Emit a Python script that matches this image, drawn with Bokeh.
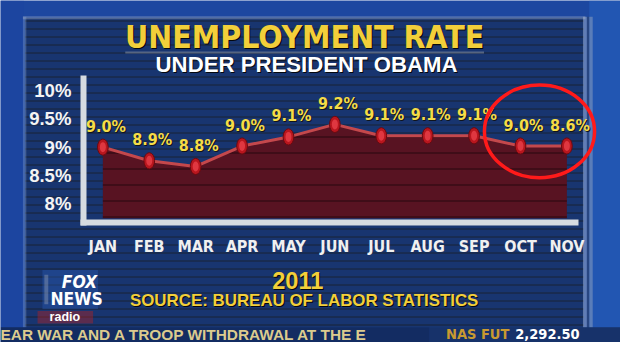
from bokeh.plotting import figure
from bokeh.models import Range1d, FixedTicker, BoxAnnotation, Label, ColumnDataSource
from bokeh.core.properties import value
from bokeh.embed import file_html
from bokeh.resources import INLINE

# ---- data ----
months = ["JAN", "FEB", "MAR", "APR", "MAY", "JUN", "JUL", "AUG", "SEP", "OCT", "NOV"]
rate_labels = ["9.0%", "8.9%", "8.8%", "9.0%", "9.1%", "9.2%", "9.1%", "9.1%", "9.1%", "9.0%", "8.6%"]
drawn_rate = [9.0, 8.76, 8.66, 9.02, 9.18, 9.40, 9.20, 9.20, 9.20, 9.02, 9.02]
y_ticks = [8, 8.5, 9, 9.5, 10]
y_tick_labels = ["8%", "8.5%", "9%", "9.5%", "10%"]
title = "UNEMPLOYMENT RATE"
subtitle = "UNDER PRESIDENT OBAMA"
year = "2011"
source_note = "SOURCE: BUREAU OF LABOR STATISTICS"
ticker_text = "EAR WAR AND A TROOP WITHDRAWAL AT THE E"
market_name = "NAS FUT"
market_value = "2,292.50"

idx = list(range(len(months)))

# ---- layout (design drawn on a 636x358 board, scaled onto a 620x342 canvas) ----
W, H = 620, 342
BW, BH = 636, 358
SX, SY = W / BW, H / BH
FS = (SX + SY) / 2
cx = lambda v: v * SX
cy = lambda v: v * SY

# board pixel calibration of the chart scales
X_PX0, X_STEP = 105.0, 47.6      # board x of month 0 and px per month
Y_PX9, Y_STEP = 153.5, 59.5      # board y of 9 % and px per 1 %
xd = lambda px: (px - X_PX0) / X_STEP
yd = lambda py: 9 - (py - Y_PX9) / Y_STEP

NARROW = "DejaVu Sans Condensed"
SANS = "Liberation Sans"
BLUE = "#1d47a0"
PANEL = "#121b28"
YELLOW = "#f2cf3a"

X0, Y0 = xd(85), yd(232.5)       # where the two axes meet

p = figure(width=W, height=H, output_backend="svg", toolbar_location=None,
           x_range=Range1d(xd(0), xd(BW)), y_range=Range1d(yd(BH), yd(0)),
           min_border_left=0, min_border_right=0, min_border_top=0, min_border_bottom=0,
           background_fill_color=BLUE, border_fill_color=BLUE, outline_line_color=None)
p.grid.visible = False

# ---- background decoration (canvas units, given in board px) ----
def box(l, r, t, b, color, level="underlay", **kw):
    bx = BoxAnnotation(left=cx(l), right=cx(r), top=cy(t), bottom=cy(b),
                       left_units="canvas", right_units="canvas",
                       top_units="canvas", bottom_units="canvas",
                       fill_color=color, line_color=None, level=level, **kw)
    p.add_layout(bx)
    return bx

box(0, 24, 0, 342, "#1b43a0")
box(604, 636, 0, 342, "#2a6fcc")                       # brighter blue at right
box(25, 598, 18, 342, PANEL, hatch_pattern="horizontal_line",
    hatch_color="#172233", hatch_scale=8, hatch_weight=1)  # dark panel
box(23, 26.5, 17, 342, "#7f9cc8")                      # left panel edge
box(23, 600, 16.5, 19.5, "#9fb0c8")                    # top panel edge
box(597.5, 601.5, 17, 342, "#c8d0d8")                  # right double bar
box(601.5, 604, 17, 342, "#3a4656")
box(604, 607.5, 17, 342, "#b0bac4")
box(128, 496, 53.5, 55.5, "#b4bcc6", level="annotation")   # title underline

def label(x, y, text, size, color, font=SANS, style="bold", align="center", shadow=True):
    kw = dict(x_units="canvas", y_units="canvas", text=text, text_font=font,
              text_font_size=f"{size * FS:.1f}px", text_font_style=style,
              text_align=align, text_baseline="middle")
    if shadow:
        p.add_layout(Label(x=cx(x) + 1, y=cy(y) + 1, text_color="#05080e", **kw))
    p.add_layout(Label(x=cx(x), y=cy(y), text_color=color, **kw))

label(312, 37.5, title, 33, YELLOW, font=NARROW)
label(314, 67, subtitle, 23, "#ffffff")
label(305, 293.5, year, 24.5, YELLOW)
label(311.5, 314.5, source_note, 17.5, YELLOW)

# Fox News radio logo
box(43, 100, 282, 323, "#2a5cb4", level="annotation")
box(45, 49, 287, 318, "#9aa6b8", level="annotation")
box(38, 95, 325, 338, "#c0201c", level="annotation")
label(81, 295, "FOX", 18, "#ffffff", font=NARROW, style="bold italic", shadow=False)
label(78, 312.5, "NEWS", 18, "#ffffff", font=NARROW, style="bold", shadow=False)
label(66, 331.5, "radio", 13, "#ffffff", style="bold", shadow=False)

# news ticker
box(0, 440, 342, 358, "#040404", level="annotation")
box(440, 636, 342, 358, "#10141a", level="annotation")
label(0, 349.5, ticker_text, 16, "#dccb8e", align="left", shadow=False)
label(457, 349.5, market_name, 15, "#c99a30", font=NARROW, align="left", shadow=False)
label(528, 349.5, market_value, 15, "#ffffff", font=NARROW, align="left", shadow=False)

# ---- data marks ----
src = ColumnDataSource(dict(x=idx, y=drawn_rate, lab=rate_labels))
p.varea(x="x", y1=yd(228), y2="y", source=src, fill_color="#581322",
        hatch_pattern="horizontal_line", hatch_color="#350a14", hatch_scale=16,
        hatch_weight=2, hatch_alpha=0.7)
p.line(x="x", y="y", source=src, line_color="#c4484c", line_width=3)
p.ellipse(x="x", y="y", width=11 * SX, height=17 * SY, width_units="screen",
          height_units="screen", source=src, fill_color="#b8161e", line_color="#6a0a10",
          line_width=1)
p.ellipse(x="x", y="y", width=6, height=10, width_units="screen", height_units="screen",
          source=src, fill_color="#e84048", line_color=None, fill_alpha=0.8)
p.text(x="x", y="y", text="lab", source=src, x_offset=4, y_offset=-20,
       text_font=value(NARROW), text_font_size="16px", text_font_style="bold",
       text_color="#10141c", text_align="center", text_baseline="middle")
p.text(x="x", y="y", text="lab", source=src, x_offset=3, y_offset=-21,
       text_font=value(NARROW), text_font_size="16px", text_font_style="bold",
       text_color="#f5dc48", text_align="center", text_baseline="middle")

# hand-drawn highlight around the last two months
p.ellipse(x=[(months.index("OCT") + months.index("NOV")) / 2 - 0.09], y=[yd(137)],
          width=113 * SX, height=97 * SY, width_units="screen", height_units="screen",
          fill_color=None, line_color="#ff1a1a", line_width=3.5)

# ---- axes, drawn at fixed positions inside the frame ----
xa = p.xaxis[0]
xa.fixed_location = Y0
xa.ticker = FixedTicker(ticks=idx)
xa.major_label_overrides = {i: m for i, m in zip(idx, months)}
xa.bounds = (xd(82), xd(593))
xa.axis_line_color = "#d6dbe0"
xa.axis_line_width = 6
xa.major_tick_line_color = None
xa.minor_tick_line_color = None
xa.major_label_standoff = 8
xa.major_label_text_font = NARROW
xa.major_label_text_font_size = "16px"
xa.major_label_text_font_style = "bold"
xa.major_label_text_color = "#f0f0f0"

ya = p.yaxis[0]
ya.fixed_location = X0
ya.ticker = FixedTicker(ticks=y_ticks)
ya.major_label_overrides = {t: s for t, s in zip(y_ticks, y_tick_labels)}
ya.bounds = (yd(235.5), yd(79))
ya.axis_line_color = "#d6dbe0"
ya.axis_line_width = 6
ya.major_tick_line_color = None
ya.minor_tick_line_color = None
ya.major_label_standoff = 6
ya.major_label_text_font = SANS
ya.major_label_text_font_size = "18.5px"
ya.major_label_text_font_style = "bold"
ya.major_label_text_color = "#f4f4f4"

open("out.html", "w").write(file_html(p, INLINE))
